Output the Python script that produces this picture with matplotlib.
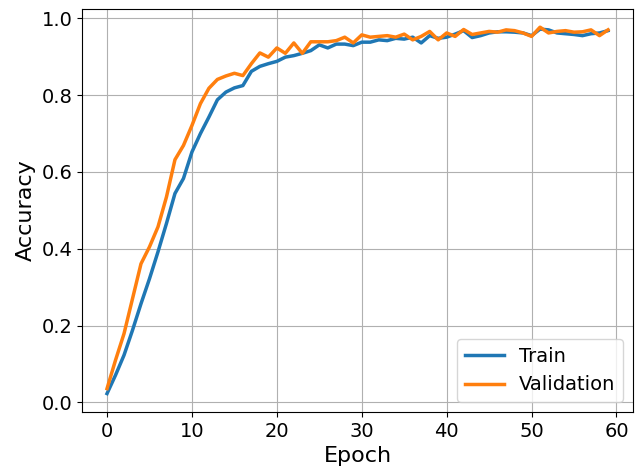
import matplotlib
matplotlib.use("Agg")
import matplotlib.pyplot as plt
import numpy as np

epochs = list(range(60))
train = [0.023, 0.071, 0.123, 0.188, 0.257, 0.322, 0.392, 0.466, 0.544, 0.583,
         0.652, 0.700, 0.743, 0.788, 0.808, 0.819, 0.825, 0.862, 0.875, 0.882,
         0.888, 0.899, 0.903, 0.909, 0.916, 0.931, 0.923, 0.933, 0.933, 0.929,
         0.938, 0.938, 0.944, 0.942, 0.948, 0.946, 0.951, 0.936, 0.955, 0.948,
         0.951, 0.959, 0.968, 0.950, 0.955, 0.962, 0.965, 0.965, 0.964, 0.962,
         0.955, 0.972, 0.970, 0.962, 0.960, 0.958, 0.955, 0.960, 0.962, 0.968]
val = [0.036, 0.110, 0.179, 0.270, 0.361, 0.405, 0.457, 0.535, 0.632, 0.669,
       0.721, 0.778, 0.818, 0.841, 0.850, 0.857, 0.851, 0.882, 0.910, 0.899,
       0.923, 0.909, 0.936, 0.909, 0.939, 0.939, 0.939, 0.942, 0.951, 0.936,
       0.957, 0.951, 0.953, 0.955, 0.951, 0.959, 0.944, 0.953, 0.966, 0.944,
       0.962, 0.953, 0.971, 0.958, 0.962, 0.966, 0.964, 0.970, 0.968, 0.962,
       0.953, 0.977, 0.962, 0.966, 0.968, 0.964, 0.965, 0.970, 0.955, 0.970]

fig = plt.figure(figsize=(6.43, 4.67), dpi=100)
ax = fig.add_axes([0.1275, 0.118, 0.857, 0.863])
ax.plot(epochs, train, color="#1f77b4", linewidth=2.5, label="Train")
ax.plot(epochs, val, color="#ff7f0e", linewidth=2.5, label="Validation")
ax.set_xlabel("Epoch", fontsize=16)
ax.set_ylabel("Accuracy", fontsize=16)
ax.tick_params(labelsize=14)
ax.set_xticks([0, 10, 20, 30, 40, 50, 60])
ax.set_yticks([0.0, 0.2, 0.4, 0.6, 0.8, 1.0])
ax.grid(True)
ax.legend(loc="lower right", fontsize=14)
fig.savefig("out.png", dpi=100)
